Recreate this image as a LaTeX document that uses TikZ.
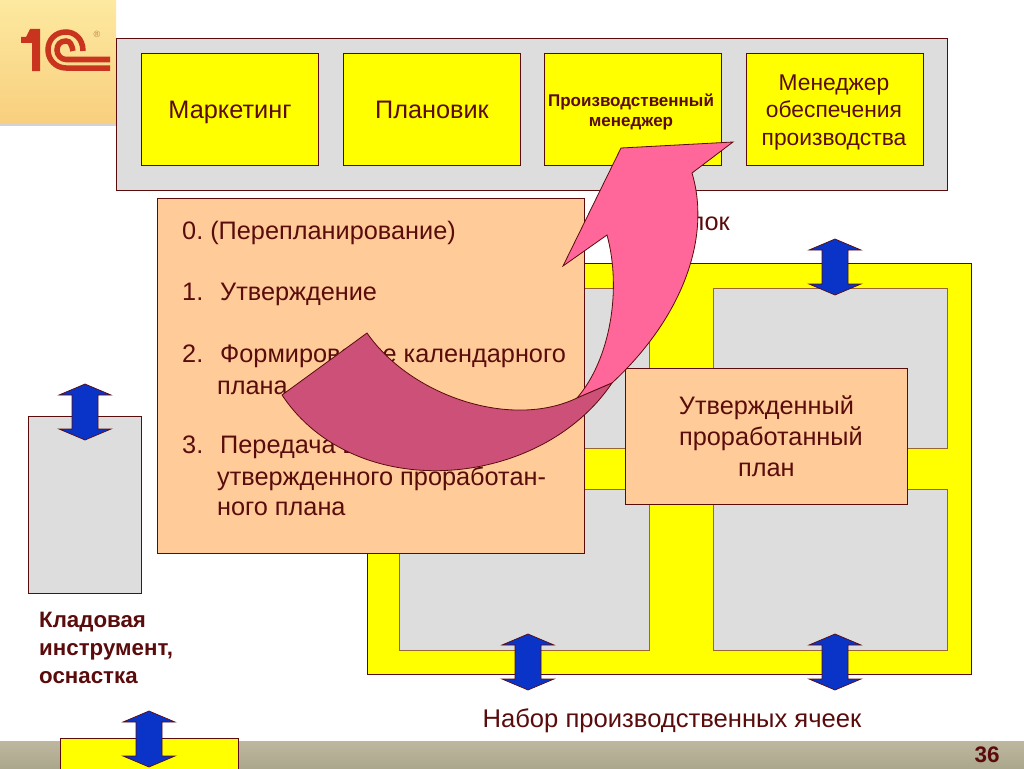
\documentclass[tikz,border=0pt]{standalone}
\usepackage{fontspec}
\setmainfont{Liberation Sans}
\usepackage{xcolor}
\definecolor{maroon}{HTML}{5A0C0C}
\definecolor{cellgray}{HTML}{DDDDDD}
\definecolor{peach}{HTML}{FFCC99}
\definecolor{boxyellow}{HTML}{FFFF00}
\definecolor{pinkarrow}{HTML}{FF6699}
\definecolor{darkarrow}{HTML}{CC5078}
\definecolor{logored}{HTML}{C8341E}
\definecolor{blockblue}{HTML}{0A33C8}
\definecolor{logotop}{HTML}{FDE9A0}
\definecolor{logobottom}{HTML}{F8CF7E}
\definecolor{bandtop}{HTML}{BDB79F}
\definecolor{bandbottom}{HTML}{ABA78C}
\newcommand{\blockarrow}[2]{
  \draw [blockedge] (#1,#2) -- ++(26,11) -- ++(-13,0) -- ++(0,34) -- ++(13,0)
    -- ++(-26,11) -- ++(-26,-11) -- ++(13,0) -- ++(0,-34) -- ++(-13,0) -- cycle;
}
\tikzset{
  box/.style={draw=maroon,line width=.9pt,fill=#1,anchor=north west,inner sep=0pt,align=center,text=maroon},
  cell/.style={draw=brown!80!black,line width=.9pt,fill=cellgray},
  blockedge/.style={draw=maroon,line width=.7pt,fill=blockblue},
  item/.style={anchor=base west,inner sep=0pt,text=maroon,font=\fontsize{25.3}{30}\selectfont},
}
\begin{document}
\frenchspacing
\begin{tikzpicture}[x=1pt,y=-1pt]
  \useasboundingbox (0,0) rectangle (1024,768);
  % logo and footer
  \shade [top color=logotop,bottom color=logobottom] (0,0) rectangle (116,124);
  \fill [gray!35] (0,124) rectangle (116,126);
  \shade [top color=bandtop,bottom color=bandbottom] (0,741) rectangle (1024,768);
  \fill [logored] (21,37) -- (26,37) -- (30,29) -- (40,29) -- (40,71) -- (32,71) -- (32,43) -- (21,43) -- cycle;
  \draw [logored,line width=5.5pt] (83,51) .. controls (83,38) and (74,32) .. (66,32) .. controls (55,32) and (48,40) .. (48,50) .. controls (48,60) and (56,68) .. (66,68) -- (110,68);
  \draw [logored,line width=5.5pt] (73,51) .. controls (72,45) and (70,41) .. (66,41) .. controls (60,41) and (57,45) .. (57,50) .. controls (57,55) and (61,59.5) .. (66,59.5) -- (110,59.5);
  \node (reg) at (97,34) [inner sep=0pt,text=brown,font=\fontsize{9}{11}\selectfont] {®};
  % top block
  \node (block) at (116,38) [box=cellgray,minimum width=831pt,minimum height=152pt] {};
  \foreach \x/\name/\txt in {141/mark/Маркетинг,343/plan/Плановик}{
    \node (\name) at (\x,53) [box=boxyellow,minimum width=177pt,minimum height=112pt,text height=18pt,text depth=0pt,font=\fontsize{25.3}{30}\selectfont] {\txt};
  }
  \node (prod) at (544,53) [box=boxyellow,minimum width=177pt,minimum height=112pt] {};
  \node (prodtext) at (631,112) [inner sep=0pt,align=center,text=maroon,font=\bfseries\fontsize{17}{19.5}\selectfont] {Производственный\\менеджер};
  \node (supply) at (746,53) [box=boxyellow,minimum width=177pt,minimum height=112pt] {};
  \node (supplytext) at (834,112.5) [inner sep=0pt,align=center,text=maroon,font=\fontsize{22.8}{27.5}\selectfont] {Менеджер\\обеспечения\\производства};
  \node (blocktext) at (730,221) [anchor=east,inner sep=0pt,text=maroon,font=\fontsize{25.3}{30}\selectfont] {блок};
  % cells
  \node (frame) at (367,263) [box=boxyellow,minimum width=604pt,minimum height=411pt] {};
  \foreach \x/\y/\w/\h in {399/288/250/160,713/288/234/160,399/489/250/161,713/489/234/161}{
    \draw [cell] (\x,\y) rectangle ++(\w,\h);
  }
  \node (store) at (60,738) [box=boxyellow,minimum width=178pt,minimum height=32pt] {};
  \node (storage) at (28,416) [box=cellgray,minimum width=113pt,minimum height=177pt] {};
  \foreach \x/\y in {85/384,835/239,528/634,835/634,149/711}{
    \blockarrow{\x}{\y}
  }
  \node (stocktext) at (39,612) [anchor=north west,inner sep=0pt,align=left,text=maroon,font=\bfseries\fontsize{22.3}{28}\selectfont] {Кладовая\\инструмент,\\оснастка};
  \node (cellstext) at (672,721) [inner sep=0pt,text=maroon,font=\fontsize{25.6}{30}\selectfont] {Набор производственных ячеек};
  \node (pagenum) at (987,755) [inner sep=0pt,text=maroon,font=\bfseries\fontsize{22.5}{26}\selectfont] {36};
  % panels
  \node (plantext) at (625,368) [box=peach,minimum width=282pt,minimum height=136pt,font=\fontsize{25.3}{31}\selectfont] {Утвержденный\\\hspace*{9pt}проработанный\\план};
  \node (steps) at (157,198) [box=peach,minimum width=427pt,minimum height=355pt] {};
  \node (s0) at (182,239) [item] {0. (Перепланирование)};
  \node (s1) at (182,300) [item] {1.};
  \node (s1a) at (220,300) [item] {Утверждение};
  \node (s2) at (182,362) [item] {2.};
  \node (s2a) at (220,362) [item] {Формирование календарного};
  \node (s2b) at (217,394) [item] {плана};
  \node (s3) at (182,453) [item] {3.};
  \node (s3a) at (220,453) [item] {Передача в производство};
  \node (s3b) at (217,485) [item] {утвержденного проработан-};
  \node (s3c) at (217,515) [item] {ного плана};
  % bent arrow
  \draw [draw=maroon,line width=.8pt,fill=pinkarrow] (621,148) -- (733,142) -- (692,173)
    .. controls (712,240) and (680,320) .. (612,383) -- (577,398)
    .. controls (610,360) and (622,290) .. (607,235) -- (563,266) -- cycle;
  \draw [draw=maroon,line width=.8pt,fill=darkarrow] (282,395) -- (367,333)
    .. controls (410,395) and (510,430) .. (577,398) -- (612,383)
    .. controls (540,490) and (355,505) .. (282,395) -- cycle;
\end{tikzpicture}
\end{document}
